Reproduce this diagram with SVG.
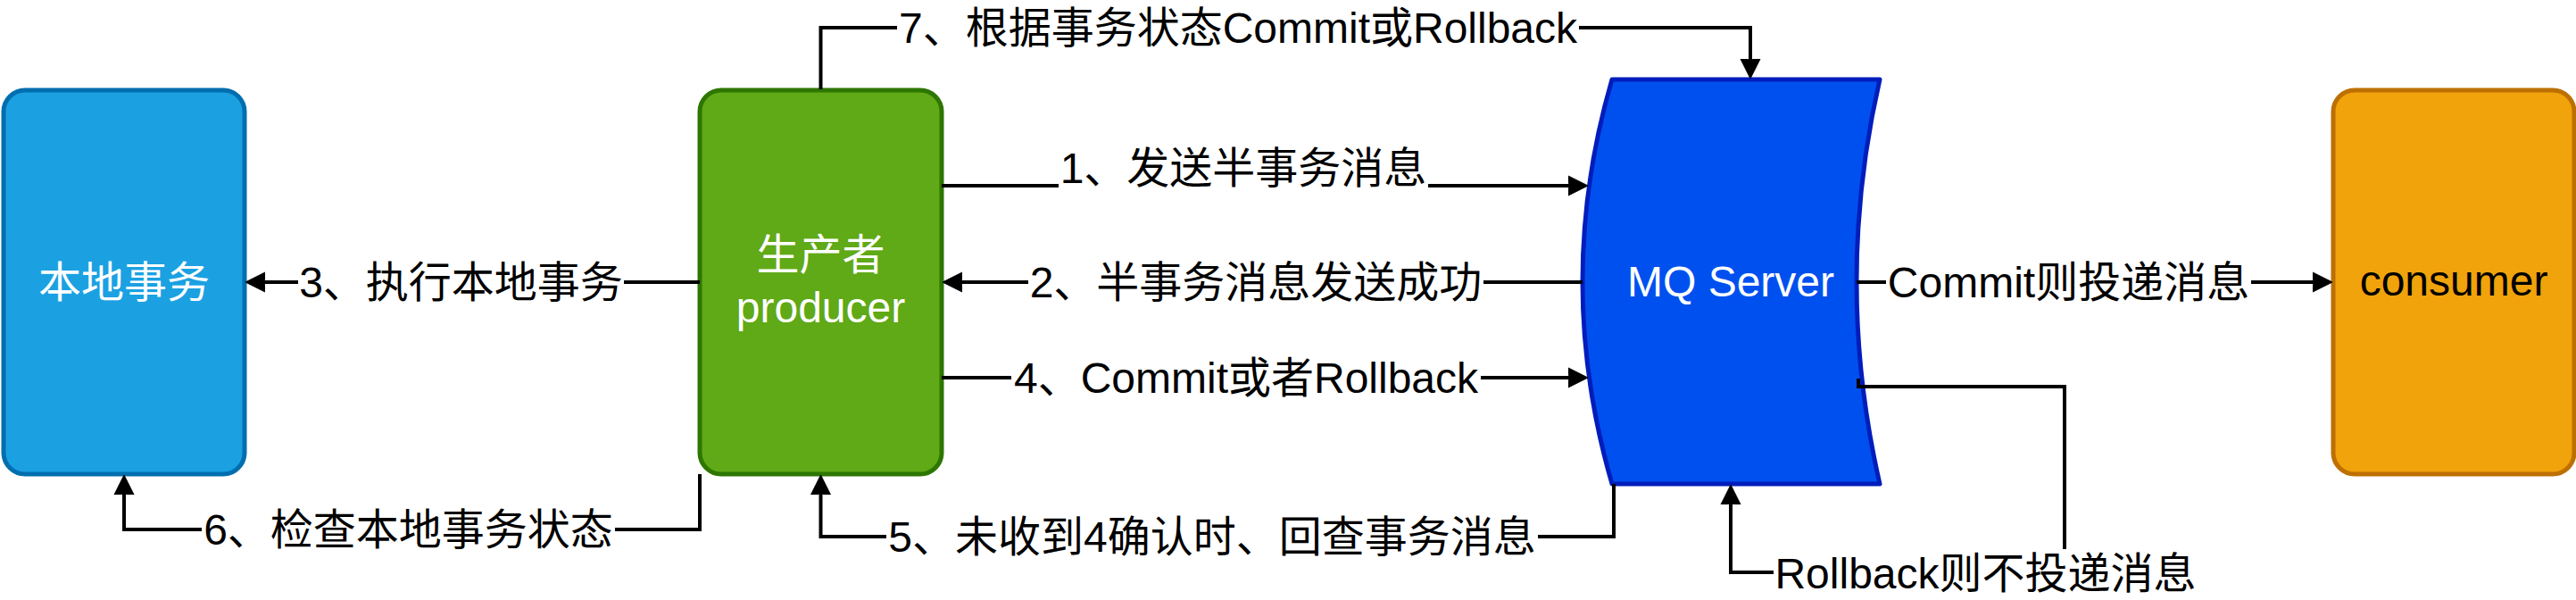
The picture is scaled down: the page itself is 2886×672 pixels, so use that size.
<svg xmlns="http://www.w3.org/2000/svg" width="2886" height="672" viewBox="0 0 2886 672">
<style>
text{font-family:"Liberation Sans","Noto Sans CJK SC",sans-serif;font-size:48px;text-anchor:middle}
.lbl{fill:#000}
.wt{fill:#fff}
.edge{fill:none;stroke:#000;stroke-width:4;marker-end:url(#arr)}
.bg{fill:#fff}
</style>
<defs>
<marker id="arr" markerUnits="userSpaceOnUse" markerWidth="32" markerHeight="32" viewBox="-2 -16 32 32" refX="0" refY="0" orient="auto">
<path d="M20,0 L-7,-13.5 L0,0 L-7,13.5 Z" fill="#000" stroke="#000" stroke-width="1"/>
</marker>
</defs>
<rect width="2886" height="672" fill="#fff"/>
<g id="local-tx">
<rect x="4" y="101" width="270" height="430" rx="24" ry="24" fill="#1ba1e2" stroke="#006eaf" stroke-width="5"/>
<text class="wt" x="139" y="333">本地事务</text>
</g>
<g id="producer">
<rect x="784" y="101" width="271" height="430" rx="24" ry="24" fill="#60a917" stroke="#2d7600" stroke-width="5"/>
<text class="wt" x="919.5" y="302">生产者</text>
<text class="wt" x="919.5" y="361">producer</text>
</g>
<g id="mq-server">
<path d="M1806,89 L2106,89 Q2054,315.5 2106,542 L1806,542 Q1740,315.5 1806,89 Z" fill="#0050ef" stroke="#001dbc" stroke-width="5" stroke-linejoin="round"/>
<text class="wt" x="1939" y="332">MQ Server</text>
</g>
<g id="consumer">
<rect x="2614" y="101" width="270" height="430" rx="24" ry="24" fill="#f0a30a" stroke="#bd7000" stroke-width="5"/>
<text class="lbl" x="2749" y="331">consumer</text>
</g>
<g id="connectors">
<path class="edge" d="M1055,208 H1759"/>
<path class="edge" d="M1773,316 H1076"/>
<path class="edge" d="M784,316 H295"/>
<path class="edge" d="M1055,423 H1759"/>
<path class="edge" d="M1808,542 V601 H919.5 V552"/>
<path class="edge" d="M784,531 V593 H139 V552"/>
<path class="edge" d="M919.5,100 V31 H1961 V68"/>
<path class="edge" d="M2080,316 H2593"/>
<path class="edge" d="M2082,424 V433 H2313 V641 H1939 V563"/>
<rect class="bg" x="1186" y="170" width="414" height="44"/>
<text class="lbl" x="1393" y="205">1、发送半事务消息</text>
<rect class="bg" x="1152" y="290" width="510" height="52"/>
<text class="lbl" x="1407" y="333">2、半事务消息发送成功</text>
<rect class="bg" x="334" y="290" width="365" height="52"/>
<text class="lbl" x="516.5" y="333">3、执行本地事务</text>
<rect class="bg" x="1133" y="397" width="526" height="52"/>
<text class="lbl" x="1396" y="440">4、Commit或者Rollback</text>
<rect class="bg" x="993" y="575" width="730" height="52"/>
<text class="lbl" x="1358" y="618">5、未收到4确认时、回查事务消息</text>
<rect class="bg" x="226" y="567" width="463" height="52"/>
<text class="lbl" x="457.5" y="610">6、检查本地事务状态</text>
<rect class="bg" x="1005" y="5" width="764" height="52"/>
<text class="lbl" x="1387" y="48">7、根据事务状态Commit或Rollback</text>
<rect class="bg" x="2113" y="290" width="409" height="52"/>
<text class="lbl" x="2317.5" y="333">Commit则投递消息</text>
<rect class="bg" x="1987" y="615" width="475" height="52"/>
<text class="lbl" x="2224.5" y="659">Rollback则不投递消息</text>
</g>
</svg>
